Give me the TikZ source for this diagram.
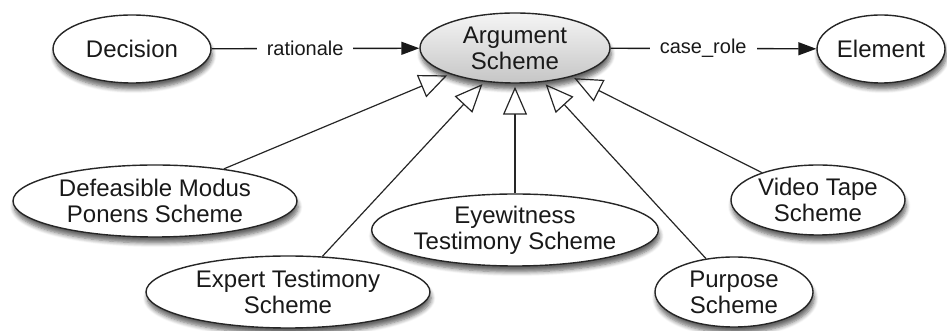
\documentclass[tikz,border=0pt]{standalone}
\usepackage{fontspec}
\setmainfont{Liberation Sans}
\usetikzlibrary{shapes.geometric,arrows.meta,shadows,shadows.blur}

\begin{document}
\begin{tikzpicture}[
    x=0.5pt, y=0.5pt,
    scheme/.style n args={2}{ellipse, draw=black!85, fill=white, line width=0.7pt, minimum width=#1, minimum height=#2, inner sep=0pt, align=center, font=\fontsize{12}{13}\selectfont, text=black!90, blur shadow={shadow xshift=0.6pt, shadow yshift=-3pt, shadow blur steps=6, shadow opacity=60}},
    rel/.style={-{Triangle[length=9pt,width=6.5pt]}, draw=black!90, line width=0.7pt},
    isa/.style={-{Triangle[open,length=14pt,width=12pt]}, draw=black!85, line width=0.6pt, shorten >=1.5pt},
    lbl/.style={fill=white, inner sep=5pt, font=\fontsize{10}{12}\selectfont, text=black!90}
]
    \useasboundingbox (0,0) rectangle (947,331);

    % Top row
    \node[scheme={79pt}{34pt}] (dec) at (132,282) {Decision};
    \node[scheme={95pt}{35pt}, top color=gray!8, bottom color=gray!45] (arg) at (515,283) {Argument\\Scheme};
    \node[scheme={64pt}{34pt}] (elem) at (881,282) {Element};

    % Scheme kinds
    \node[scheme={142pt}{36pt}] (dmp) at (155,130) {Defeasible Modus\\Ponens Scheme};
    \node[scheme={142pt}{36pt}] (expert) at (288,39) {Expert Testimony\\Scheme};
    \node[scheme={142pt}{36pt}] (eye) at (515,101) {Eyewitness\\Testimony Scheme};
    \node[scheme={87pt}{35pt}] (video) at (818,131) {Video Tape\\Scheme};
    \node[scheme={79pt}{35pt}] (purp) at (734,39) {Purpose\\Scheme};

    % Relations
    \draw[rel] (dec) -- node[lbl, pos=0.45] (ratl) {rationale} (arg);
    \draw[rel] (arg) -- node[lbl, pos=0.45] (crole) {case\_role} (elem);

    % Inheritance
    \draw[isa] (dmp.25) -- (arg.202);
    \draw[isa] (expert.46) -- (arg.228);
    \draw[isa] (eye.north) -- (arg.south);
    \draw[isa] (purp.130) -- (arg.310);
    \draw[isa] (video.154) -- (arg.333);
\end{tikzpicture}
\end{document}
